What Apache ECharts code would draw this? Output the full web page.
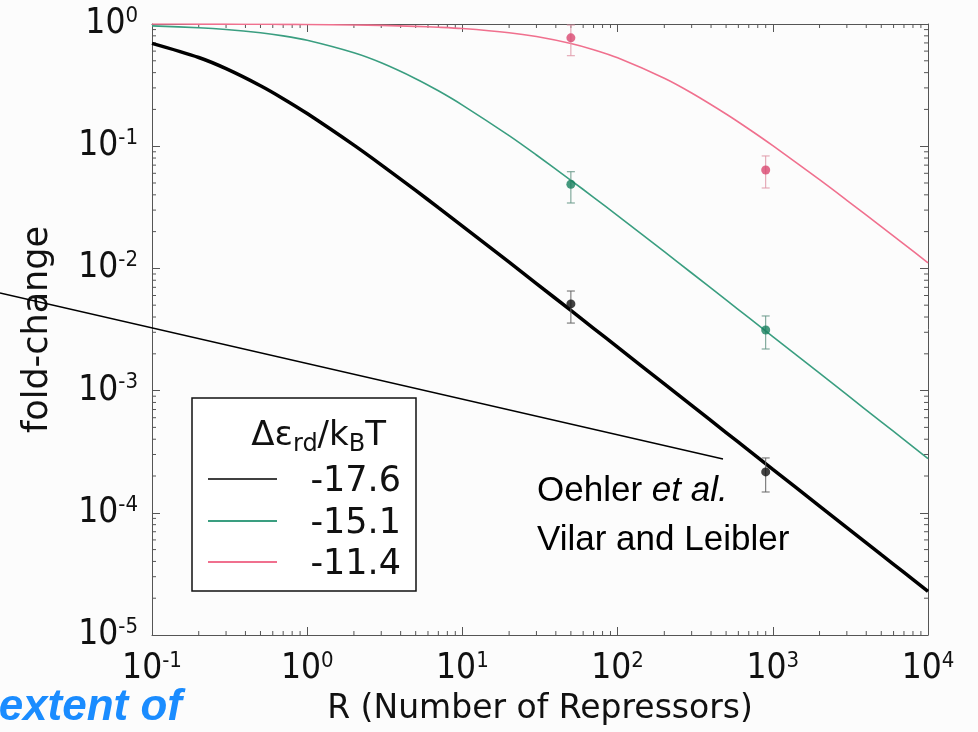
<!DOCTYPE html>
<html>
<head>
<meta charset="utf-8">
<script src="https://cdn.jsdelivr.net/npm/echarts@6/dist/echarts.min.js"></script>
<style>
html,body{margin:0;padding:0;background:#fcfcfc;}
#chart{width:978px;height:732px;}
</style>
</head>
<body>
<div id="chart"></div>
<script>
// ---- data ----
const R_curve = [0.1, 0.2, 0.3, 0.5, 0.7, 1, 2, 3, 5, 7, 10, 20, 30, 50, 70, 100, 200, 300, 500, 700, 1000, 2000, 3000, 5000, 7000, 10000];
const fc_m176 = [0.694, 0.532, 0.431, 0.3125, 0.245, 0.185, 0.102, 0.0704, 0.0435, 0.0314, 0.0222, 0.01124, 0.00752, 0.004525, 0.003236, 0.002268, 0.001135, 0.000757, 0.000454, 0.0003246, 0.000227, 0.0001136, 0.0000758, 0.00004545, 0.00003247, 0.0000227];
const fc_m151 = [0.965, 0.933, 0.9025, 0.847, 0.799, 0.735, 0.581, 0.481, 0.357, 0.284, 0.217, 0.122, 0.0847, 0.0526, 0.0382, 0.027, 0.0137, 0.00917, 0.00552, 0.00395, 0.00277, 0.001387, 0.000925, 0.000555, 0.000397, 0.000278];
const fc_m114 = [0.9991, 0.9982, 0.9973, 0.9956, 0.9938, 0.9912, 0.9825, 0.974, 0.957, 0.941, 0.918, 0.849, 0.789, 0.692, 0.616, 0.529, 0.36, 0.2725, 0.1835, 0.1383, 0.101, 0.0532, 0.0361, 0.022, 0.0158, 0.0111];

const R_exp = [50, 900];
const pt_m176 = [0.00512, 0.000216];
const lo_m176 = [0.00357, 0.000148];
const hi_m176 = [0.00653, 0.000281];
const pt_m151 = [0.0488, 0.00313];
const lo_m151 = [0.0343, 0.00219];
const hi_m151 = [0.0618, 0.00408];
const pt_m114 = [0.77, 0.0638];
const lo_m114 = [0.55, 0.0455];
const hi_m114 = [0.98, 0.0832];

const seriesNames = ['-17.6', '-15.1', '-11.4'];
const xTickExps = [-1, 0, 1, 2, 3, 4];
const yTickExps = [-5, -4, -3, -2, -1, 0];
const minorMult = [2, 3, 4, 5, 6, 7, 8, 9];

// ---- styles ----
const lineColors = ['#000000', '#3a9e80', '#f0708e'];
const dotColors = ['#111111', '#17805e', '#d9466f'];
const lineWidths = [3.5, 1.6, 1.6];
const axisColor = '#555';
const tickFont = "'DejaVu Sans Condensed', 'DejaVu Sans', sans-serif";

const zip = (a, b) => a.map((v, i) => [v, b[i]]);
const zip3 = (a, b, c) => a.map((v, i) => [v, b[i], c[i]]);

const xMin = Math.pow(10, xTickExps[0]), xMax = Math.pow(10, xTickExps[xTickExps.length - 1]);
const yMin = Math.pow(10, yTickExps[0]), yMax = Math.pow(10, yTickExps[yTickExps.length - 1]);

const xMinor = [], yMinor = [];
for (let e = xTickExps[0]; e < xTickExps[xTickExps.length - 1]; e++) minorMult.forEach(m => xMinor.push([m * Math.pow(10, e), yMin]));
for (let e = yTickExps[0]; e < yTickExps[yTickExps.length - 1]; e++) minorMult.forEach(m => yMinor.push([xMin, m * Math.pow(10, e)]));

const expLabel = v => {
  const e = Math.round(Math.log10(v));
  return '{b|10}{s|' + e + '}';
};
const tickRich = {
  b: { fontSize: 35, fontFamily: tickFont, color: '#111', lineHeight: 38 },
  s: { fontSize: 22, fontFamily: tickFont, color: '#111', lineHeight: 26, verticalAlign: 'top' }
};

const chart = echarts.init(document.getElementById('chart'), null, { renderer: 'canvas' });

const baseAxis = {
  type: 'log', logBase: 10,
  axisLine: { show: true, lineStyle: { color: axisColor, width: 1 } },
  axisTick: { show: true, inside: true, length: 8, lineStyle: { color: axisColor, width: 1 } },
  splitLine: { show: false },
  minorTick: { show: false },
  minorSplitLine: { show: false }
};

function minorTickRender(dir) {
  return function (params, api) {
    const cs = params.coordSys;
    const p = api.coord([api.value(0), api.value(1)]);
    const L = 4;
    const st = { stroke: axisColor, lineWidth: 1 };
    if (dir === 'x') {
      const yb = cs.y + cs.height, yt = cs.y;
      return { type: 'group', children: [
        { type: 'line', shape: { x1: p[0], y1: yb, x2: p[0], y2: yb - L }, style: st },
        { type: 'line', shape: { x1: p[0], y1: yt, x2: p[0], y2: yt + L }, style: st }
      ] };
    } else {
      const xl = cs.x, xr = cs.x + cs.width;
      return { type: 'group', children: [
        { type: 'line', shape: { x1: xl, y1: p[1], x2: xl + L, y2: p[1] }, style: st },
        { type: 'line', shape: { x1: xr, y1: p[1], x2: xr - L, y2: p[1] }, style: st }
      ] };
    }
  };
}

function errRender(color) {
  return function (params, api) {
    const x = api.value(0);
    const pl = api.coord([x, api.value(1)]);
    const ph = api.coord([x, api.value(2)]);
    const w = 4;
    const st = { stroke: color, lineWidth: 1 };
    return { type: 'group', children: [
      { type: 'line', shape: { x1: pl[0], y1: pl[1], x2: ph[0], y2: ph[1] }, style: st },
      { type: 'line', shape: { x1: pl[0] - w, y1: pl[1], x2: pl[0] + w, y2: pl[1] }, style: st },
      { type: 'line', shape: { x1: ph[0] - w, y1: ph[1], x2: ph[0] + w, y2: ph[1] }, style: st }
    ] };
  };
}

const curves = [fc_m176, fc_m151, fc_m114];
const pts = [pt_m176, pt_m151, pt_m114];
const los = [lo_m176, lo_m151, lo_m114];
const his = [hi_m176, hi_m151, hi_m114];
const errColors = ['#666', '#6a9a8a', '#e09aaa'];

const series = [];
curves.forEach((c, i) => {
  series.push({
    name: seriesNames[i], type: 'line', data: zip(R_curve, c), smooth: 0.3,
    showSymbol: false, symbol: 'none', clip: true,
    lineStyle: { color: lineColors[i], width: lineWidths[i] }, z: 3
  });
});
pts.forEach((p, i) => {
  series.push({
    type: 'custom', renderItem: errRender(errColors[i]), data: zip3(R_exp, los[i], his[i]), z: 4, clip: false
  });
  series.push({
    type: 'scatter', data: zip(R_exp, p), symbol: 'circle', symbolSize: 9,
    itemStyle: { color: dotColors[i] }, z: 5
  });
});
series.push({ type: 'custom', renderItem: minorTickRender('x'), data: xMinor, z: 2, clip: false, silent: true });
series.push({ type: 'custom', renderItem: minorTickRender('y'), data: yMinor, z: 2, clip: false, silent: true });

// legend (graphic), built from series names/colours
const legX = 192, legY = 398, legW = 224, legH = 193;
const legRowY = [479, 521, 562];
const legendChildren = [
  { type: 'rect', shape: { x: legX, y: legY, width: legW, height: legH }, style: { fill: '#ffffff', stroke: '#111', lineWidth: 1.5 } },
  { type: 'text', x: 386, y: 436, style: {
      text: '{a|Δε}{sub|rd}{a|/k}{sub|B}{a|T}', align: 'right', verticalAlign: 'middle',
      rich: {
        a: { fontSize: 34, fontFamily: 'DejaVu Sans', fill: '#111', lineHeight: 42 },
        sub: { fontSize: 24, fontFamily: 'DejaVu Sans', fill: '#111', lineHeight: 42, verticalAlign: 'bottom' }
      } } }
];
seriesNames.forEach((n, i) => {
  legendChildren.push({ type: 'line', shape: { x1: 208, y1: legRowY[i], x2: 277, y2: legRowY[i] }, style: { stroke: lineColors[i], lineWidth: i === 0 ? 1.5 : 2 } });
  legendChildren.push({ type: 'text', x: 401, y: legRowY[i] + 3, style: { text: n, align: 'right', verticalAlign: 'middle', fontSize: 35, fontFamily: 'DejaVu Sans', fill: '#111' } });
});

const option = {
  backgroundColor: '#fcfcfc',
  animation: false,
  grid: { left: 152, top: 24, right: 50, bottom: 97, containLabel: false },
  xAxis: [
    Object.assign({}, baseAxis, {
      position: 'bottom', min: xMin, max: xMax, interval: 1,
      name: 'R (Number of Repressors)', nameLocation: 'middle', nameGap: 58,
      nameTextStyle: { fontSize: 33, fontFamily: 'DejaVu Sans', color: '#111' },
      axisLabel: { show: true, margin: 15, formatter: expLabel, rich: tickRich }
    }),
    Object.assign({}, baseAxis, {
      position: 'top', min: xMin, max: xMax, interval: 1, axisLabel: { show: false }
    })
  ],
  yAxis: [
    Object.assign({}, baseAxis, {
      position: 'left', min: yMin, max: yMax, interval: 1,
      name: 'fold-change', nameLocation: 'middle', nameGap: 97,
      nameTextStyle: { fontSize: 35, fontFamily: 'DejaVu Sans', color: '#111' },
      axisLabel: { show: true, margin: 14, formatter: expLabel, rich: tickRich }
    }),
    Object.assign({}, baseAxis, {
      position: 'right', min: yMin, max: yMax, interval: 1, axisLabel: { show: false }
    })
  ],
  series: series,
  graphic: [
    { type: 'line', z: 10, shape: { x1: 0, y1: 293, x2: 723, y2: 459 }, style: { stroke: '#000', lineWidth: 1.3 } },
    { type: 'group', z: 11, children: legendChildren },
    { type: 'text', z: 11, x: 537, y: 491, style: {
        text: '{n|Oehler }{i|et al.}', verticalAlign: 'middle',
        rich: {
          n: { fontSize: 35, fontFamily: 'Liberation Sans', fill: '#000' },
          i: { fontSize: 35, fontFamily: 'Liberation Sans', fontStyle: 'italic', fill: '#000' }
        } } },
    { type: 'text', z: 11, x: 537, y: 540, style: { text: 'Vilar and Leibler', verticalAlign: 'middle', fontSize: 35, fontFamily: 'Liberation Sans', fill: '#000' } },
    { type: 'text', z: 11, x: 182, y: 708, style: { text: 'extent of', align: 'right', verticalAlign: 'middle', fontSize: 44, fontWeight: 'bold', fontStyle: 'italic', fontFamily: 'Liberation Sans', fill: '#1a8cff' } }
  ]
};
chart.setOption(option);
</script>
</body>
</html>
